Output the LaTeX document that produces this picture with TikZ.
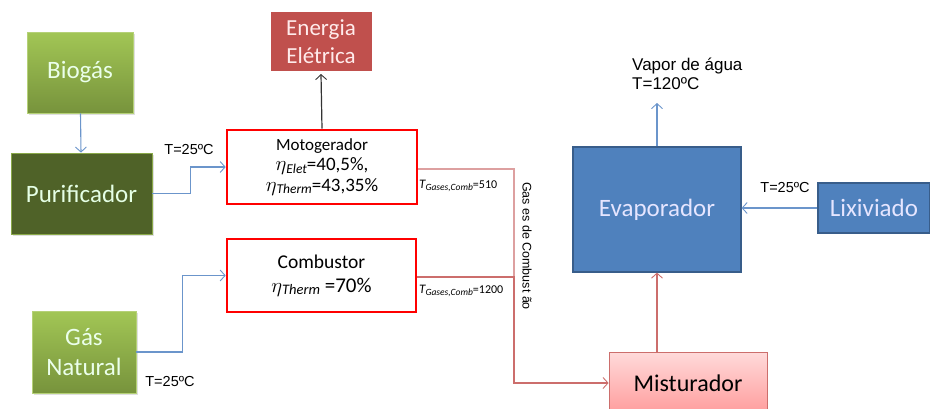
\documentclass[tikz,border=0pt]{standalone}
\usepackage{fontspec}
\setmainfont{Carlito}
\newfontfamily\arialf{Liberation Sans}
\usetikzlibrary{arrows.meta,shadows}
\definecolor{gtop}{HTML}{A2C655}
\definecolor{gbot}{HTML}{77933C}
\definecolor{olive}{HTML}{4F6228}
\definecolor{enred}{HTML}{C0504D}
\definecolor{evblue}{HTML}{4F81BD}
\definecolor{evborder}{HTML}{385D8A}
\definecolor{arrblue}{HTML}{6B95CB}
\definecolor{gasred}{HTML}{CC6E6C}
\definecolor{gaspink}{HTML}{DDA0A0}
\definecolor{mtop}{HTML}{FFDADA}
\definecolor{mbot}{HTML}{FF9C9C}
\newcommand{\subtxt}[2]{\raisebox{-2.5pt}{\fontsize{#1}{#1}\selectfont\itshape #2}}
\newcommand{\etasym}{\raisebox{0pt}{\fontsize{22}{22}\selectfont$\eta$}}
\tikzset{
  box/.style={rectangle, inner sep=0pt, align=center, font=\fontsize{25}{30}\selectfont},
  greenbox/.style={box, top color=gtop, bottom color=gbot, draw=gtop!80!white, line width=0.6pt, text=white!92!green, drop shadow={opacity=0.25,shadow xshift=1.5pt,shadow yshift=-1.5pt}},
  redframe/.style={rectangle, draw=red, line width=2.6pt, fill=white, align=center, inner sep=0pt},
  bluebox/.style={box, fill=evblue, draw=evborder, line width=1.2pt, text=white!90!blue},
  tip/.style={-{Straight Barb[length=5pt,width=11pt,line width=0.9pt]}},
  barrow/.style={tip, draw=arrblue, line width=1.1pt},
  rarrow/.style={tip, draw=gasred, line width=1.1pt},
  lbl/.style={font=\arialf\fontsize{14.5}{17}\selectfont, inner sep=0pt},
  tlbl/.style={font=\fontsize{13}{14}\selectfont, inner sep=0pt, anchor=west}
}
\begin{document}
\begin{tikzpicture}[x=1pt,y=-1pt]
\useasboundingbox (0,0) rectangle (930,408);
% boxes
\node[greenbox, minimum width=106pt, minimum height=81pt] (bio) at (80,72.5) {Biog\'as};
\node[box, fill=olive, draw=gtop!70!olive, line width=0.8pt, text=white!90!green, minimum width=141pt, minimum height=81pt, drop shadow={opacity=0.25,shadow xshift=1.5pt,shadow yshift=-1.5pt}] (pur) at (81.5,193.5) {Purificador};
\node[box, fill=enred, draw=white, line width=3pt, text=white!92!red, minimum width=104pt, minimum height=62pt, drop shadow={opacity=0.3,shadow xshift=1pt,shadow yshift=-1.5pt}, font=\fontsize{23}{28}\selectfont] (en) at (321,41.5) {Energia\\El\'etrica};
\node[redframe, minimum width=190pt, minimum height=74pt, font=\fontsize{19}{20.5}\selectfont] (moto) at (322,167) {{\fontsize{17}{17}\selectfont Motogerador}\\
\etasym\subtxt{13.5}{Elet}=40,5\%,\\
\etasym\subtxt{13.5}{Therm}=43,35\%};
\node[redframe, minimum width=189pt, minimum height=73pt, font=\fontsize{21}{24}\selectfont] (comb) at (321.5,275.5) {{\fontsize{19.5}{19.5}\selectfont Combustor}\\
\etasym\subtxt{14.5}{Therm} =70\%};
\node[greenbox, minimum width=104pt, minimum height=82pt] (gn) at (84,352) {G\'as\\Natural};
\node[bluebox, minimum width=168pt, minimum height=125pt] (evap) at (657,209.5) {Evaporador};
\node[bluebox, minimum width=112pt, minimum height=50pt] (lix) at (874,208) {Lixiviado};
\node[box, top color=mtop, bottom color=mbot, draw=gasred, line width=0.8pt, text=black, minimum width=158pt, minimum height=62pt, font=\fontsize{24}{28}\selectfont] (mist) at (688,383) {Misturador};
% labels
\node[lbl] (t1) at (189,149) {T=25ºC};
\node[lbl] (t2) at (170,381) {T=25ºC};
\node[lbl] (t3) at (785,187) {T=25ºC};
\node[font=\arialf\fontsize{17}{19}\selectfont, anchor=north west, align=left, inner sep=0pt] (vap) at (632,58) {Vapor de \'agua\\T=120ºC};
\coordinate (vapend) at (657,103);
\node[tlbl] (g510) at (419,186) {{\itshape T}\subtxt{9.5}{Gases,Comb}{\fontsize{12}{12}\selectfont =510}};
\node[tlbl] (g1200) at (419,291) {{\itshape T}\subtxt{9.5}{Gases,Comb}{\fontsize{12}{12}\selectfont =1200}};
\node[lbl, rotate=-90, font=\arialf\fontsize{12.5}{14}\selectfont] (gcomb) at (527,246) {Gas es de Combust ão};
\coordinate (gx) at (514,277);
% connectors
\draw[barrow] (bio) -- (pur);
\draw[barrow] (pur.east) -- ++(38,0) |- (moto.west);
\draw[barrow] (gn.east) -- ++(46,0) |- (comb.west);
\draw[tip, draw=black!80, line width=1.2pt] (moto.north) -- (en.south);
\draw[draw=gaspink, line width=1.2pt] ([yshift=-2pt]moto.east) -| (gx);
\draw[rarrow] ([yshift=-1.5pt]comb.east) -- (gx) |- (mist.west);
\draw[rarrow] (evap.south |- mist.north) -- (evap.south);
\draw[barrow] (evap.north) -- (vapend);
\draw[barrow] (lix.west) -- (evap.east |- lix.west);
\end{tikzpicture}
\end{document}
